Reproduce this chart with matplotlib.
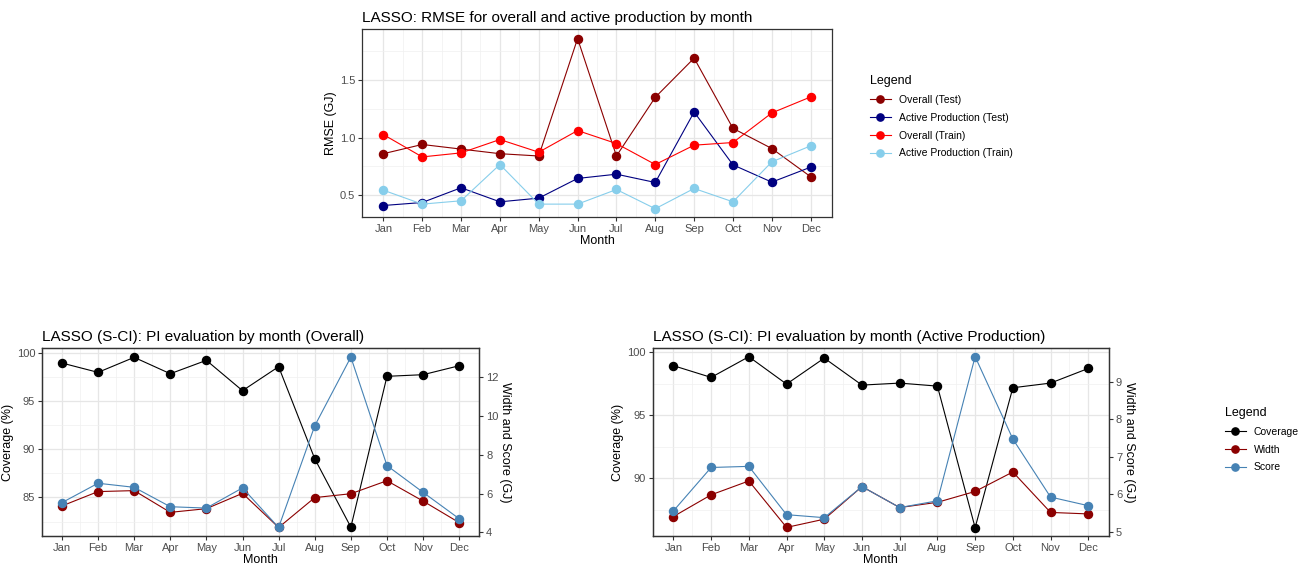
import numpy as np
import matplotlib
matplotlib.use("Agg")
import matplotlib.pyplot as plt
from matplotlib.lines import Line2D
from matplotlib.ticker import MultipleLocator

plt.rcParams['font.family'] = ['Liberation Sans', 'DejaVu Sans']

# Datos
meses = ['Jan', 'Feb', 'Mar', 'Apr', 'May', 'Jun', 'Jul', 'Aug', 'Sep', 'Oct', 'Nov', 'Dec']

# RMSE (GJ)
overall_test = [0.86, 0.94, 0.90, 0.86, 0.84, 1.86, 0.84, 1.35, 1.69, 1.08, 0.905, 0.66]
active_test = [0.41, 0.436, 0.564, 0.442, 0.474, 0.645, 0.682, 0.61, 1.222, 0.763, 0.613, 0.743]
overall_train = [1.026, 0.832, 0.867, 0.983, 0.873, 1.061, 0.948, 0.766, 0.934, 0.957, 1.214, 1.353]
active_train = [0.543, 0.422, 0.451, 0.766, 0.422, 0.422, 0.549, 0.382, 0.558, 0.442, 0.789, 0.928]

# PI evaluation (Overall)
cov_overall = [98.96, 97.99, 99.55, 97.85, 99.24, 96.09, 98.58, 89.02, 81.92, 97.58, 97.75, 98.68]
width_overall = [5.36, 6.10, 6.15, 5.03, 5.22, 6.01, 4.25, 5.79, 5.99, 6.66, 5.61, 4.50]
score_overall = [5.53, 6.53, 6.32, 5.32, 5.25, 6.29, 4.25, 9.49, 13.03, 7.44, 6.06, 4.70]

# PI evaluation (Active Production)
cov_active = [98.92, 97.99, 99.63, 97.46, 99.52, 97.38, 97.54, 97.30, 86.08, 97.17, 97.54, 98.70]
width_active = [5.40, 5.98, 6.35, 5.11, 5.33, 6.20, 5.64, 5.78, 6.07, 6.59, 5.51, 5.47]
score_active = [5.55, 6.71, 6.74, 5.45, 5.37, 6.20, 5.64, 5.82, 9.67, 7.47, 5.92, 5.69]

x = np.arange(1, len(meses) + 1)

borde = '#333333'
gris_tick = '#4D4D4D'
ms = 5.8
lw = 0.8


def estilo_bw(ax, y_major, y_minor):
    # imitacion de theme_bw de ggplot
    ax.set_facecolor('white')
    for s in ax.spines.values():
        s.set_color(borde)
        s.set_linewidth(0.9)
    ax.set_xlim(0.45, 12.55)
    ax.set_xticks(x)
    ax.set_xticklabels(meses)
    ax.set_xticks(x[:-1] + 0.5, minor=True)
    ax.yaxis.set_major_locator(MultipleLocator(y_major))
    ax.yaxis.set_minor_locator(MultipleLocator(y_minor))
    ax.grid(True, which='major', color='#E6E6E6', linewidth=0.9)
    ax.grid(True, which='minor', color='#F0F0F0', linewidth=0.5)
    ax.set_axisbelow(True)
    ax.tick_params(which='major', length=3, color=borde, labelsize=8, labelcolor=gris_tick, pad=2)
    ax.tick_params(which='minor', length=0)
    ax.set_xlabel('Month', fontsize=9, labelpad=1)


fig = plt.figure(figsize=(13.14, 5.72), dpi=100)

# Grafico superior: RMSE
ax1 = fig.add_axes([0.2755, 0.6206, 0.3577, 0.3287])
estilo_bw(ax1, 0.5, 0.25)
ax1.set_ylim(0.31, 1.943)
ax1.yaxis.set_major_locator(plt.FixedLocator([0.5, 1.0, 1.5]))
ax1.set_yticklabels(['0.5', '1.0', '1.5'])
ax1.plot(x, overall_test, '-o', color='darkred', lw=lw, ms=ms, label='Overall (Test)')
ax1.plot(x, active_test, '-o', color='navy', lw=lw, ms=ms, label='Active Production (Test)')
ax1.plot(x, overall_train, '-o', color='red', lw=lw, ms=ms, label='Overall (Train)')
ax1.plot(x, active_train, '-o', color='skyblue', lw=lw, ms=ms, label='Active Production (Train)')
ax1.set_ylabel('RMSE (GJ)', fontsize=9, labelpad=2)
ax1.set_title('LASSO: RMSE for overall and active production by month', fontsize=11, loc='left', pad=5)

h, l = ax1.get_legend_handles_labels()
fig.legend(h, l, loc='upper left', bbox_to_anchor=(0.655, 0.885), title='Legend',
           frameon=False, fontsize=7.5, title_fontsize=9, alignment='left',
           handlelength=2.0, labelspacing=0.75, markerscale=0.9)


def panel_pi(rect, cov, width, score, titulo, ylim, ylim2, y_major, y2_major):
    ax = fig.add_axes(rect)
    estilo_bw(ax, y_major, y_major / 2)
    ax.set_ylim(*ylim)
    ax2 = ax.twinx()
    ax2.set_ylim(*ylim2)
    ax2.yaxis.set_major_locator(MultipleLocator(y2_major))
    ax2.tick_params(length=3, color=borde, labelsize=8, labelcolor=gris_tick, pad=2)
    for s in ax2.spines.values():
        s.set_color(borde)
        s.set_linewidth(0.9)
    ax2.plot(x, width, '-o', color='darkred', lw=lw, ms=ms, zorder=2)
    ax2.plot(x, score, '-o', color='steelblue', lw=lw, ms=ms, zorder=3)
    # la cobertura se dibuja con la escala izquierda, pasada al eje derecho
    cov2 = ylim2[0] + (np.array(cov) - ylim[0]) * (ylim2[1] - ylim2[0]) / (ylim[1] - ylim[0])
    ax2.plot(x, cov2, '-o', color='black', lw=lw, ms=ms, zorder=1)
    ax.set_ylabel('Coverage (%)', fontsize=9, labelpad=2)
    ax2.set_ylabel('Width and Score (GJ)', fontsize=9, rotation=-90, labelpad=9)
    ax.set_title(titulo, fontsize=11, loc='left', pad=5)
    return ax, ax2


panel_pi([0.032, 0.0629, 0.3326, 0.3287], cov_overall, width_overall, score_overall,
         'LASSO (S-CI): PI evaluation by month (Overall)', (81.0, 100.52), (3.81, 13.5), 5, 2)
panel_pi([0.4967, 0.0629, 0.3473, 0.3287], cov_active, width_active, score_active,
         'LASSO (S-CI): PI evaluation by month (Active Production)', (85.42, 100.32), (4.88, 9.90), 5, 1)

h2 = [Line2D([], [], color=c, marker='o', lw=lw, ms=ms) for c in ['black', 'darkred', 'steelblue']]
fig.legend(h2, ['Coverage', 'Width', 'Score'], loc='upper left', bbox_to_anchor=(0.925, 0.305),
           title='Legend', frameon=False, fontsize=7.5, title_fontsize=9, alignment='left',
           handlelength=2.0, labelspacing=0.75, markerscale=0.9)

fig.savefig('out.png', dpi=100, facecolor='white')
